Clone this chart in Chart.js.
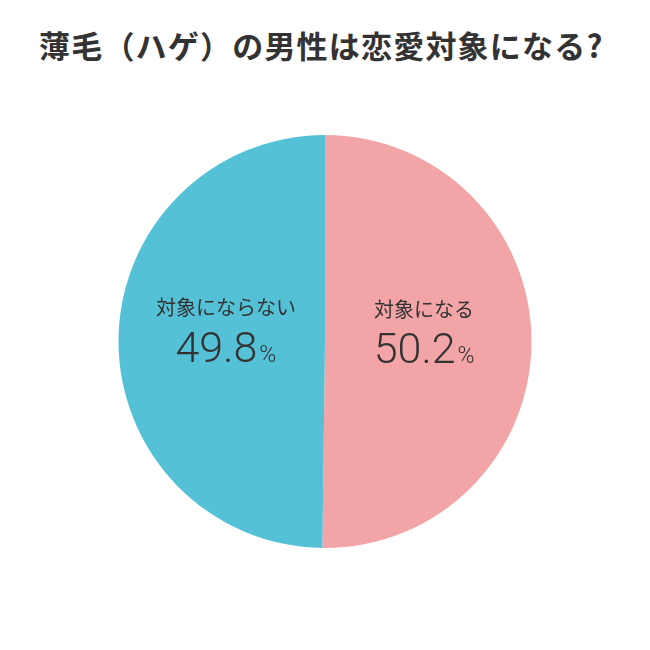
<!DOCTYPE html>
<html lang="ja">
<head>
<meta charset="utf-8">
<script src="https://cdn.jsdelivr.net/npm/chart.js@4"></script>
<style>
    html, body { margin: 0; padding: 0; background: #fff; }
    #wrap { position: relative; width: 650px; height: 650px; }
    #title {
        position: absolute; left: 39px; top: 25px; margin: 0;
        font-family: "Noto Sans CJK JP", sans-serif; font-weight: 700;
        font-size: 31px; line-height: 40px; color: #333; letter-spacing: 1.2px;
        white-space: nowrap;
    }
    canvas { position: absolute; left: 0; top: 0; }
</style>
</head>
<body>
<div id="wrap">
    <h1 id="title">薄毛（ハゲ）の男性は恋愛対象になる?</h1>
    <canvas id="chart" width="650" height="650"></canvas>
</div>
<script>
// --- data ---
const categories = ['対象になる', '対象にならない'];
const shares = [50.2, 49.8];
const sliceColors = ['#F2A4A7', '#55C1D7'];
// ------------

const labelFont = '20px "Noto Sans CJK JP", sans-serif';
const numFont = '300 43px Roboto, "Liberation Sans", sans-serif';
const pctFont = '300 23px Roboto, "Liberation Sans", sans-serif';

// draws the category name and share in the middle of each slice
const sliceLabels = {
    id: 'sliceLabels',
    afterDatasetsDraw(chart) {
        const ctx = chart.ctx;
        const arcs = chart.getDatasetMeta(0).data;
        ctx.save();
        ctx.fillStyle = '#333';
        arcs.forEach((arc, i) => {
            const p = arc.getProps(['x', 'y', 'startAngle', 'endAngle', 'outerRadius'], true);
            const mid = (p.startAngle + p.endAngle) / 2;
            const r = p.outerRadius * 0.48;
            const cx = p.x + Math.cos(mid) * r;
            const cy = p.y + Math.sin(mid) * r;

            ctx.textAlign = 'center';
            ctx.textBaseline = 'middle';
            ctx.font = labelFont;
            ctx.fillText(categories[i], cx, cy - 33);

            const num = shares[i].toFixed(1);
            ctx.textBaseline = 'alphabetic';
            ctx.font = numFont;
            const wNum = ctx.measureText(num).width;
            ctx.font = pctFont;
            const wPct = ctx.measureText('%').width;
            const left = cx - (wNum + wPct + 2) / 2;
            ctx.textAlign = 'left';
            ctx.font = numFont;
            ctx.fillText(num, left, cy + 21);
            ctx.font = pctFont;
            ctx.fillText('%', left + wNum + 2, cy + 21);
        });
        ctx.restore();
    }
};

new Chart(document.getElementById('chart'), {
    type: 'pie',
    data: {
        labels: categories,
        datasets: [{
            data: shares,
            backgroundColor: sliceColors,
            borderWidth: 0
        }]
    },
    options: {
        responsive: false,
        animation: false,
        layout: { padding: { left: 118, right: 118, top: 135, bottom: 102 } },
        plugins: {
            legend: { display: false },
            tooltip: { enabled: false }
        }
    },
    plugins: [sliceLabels]
});
</script>
</body>
</html>
